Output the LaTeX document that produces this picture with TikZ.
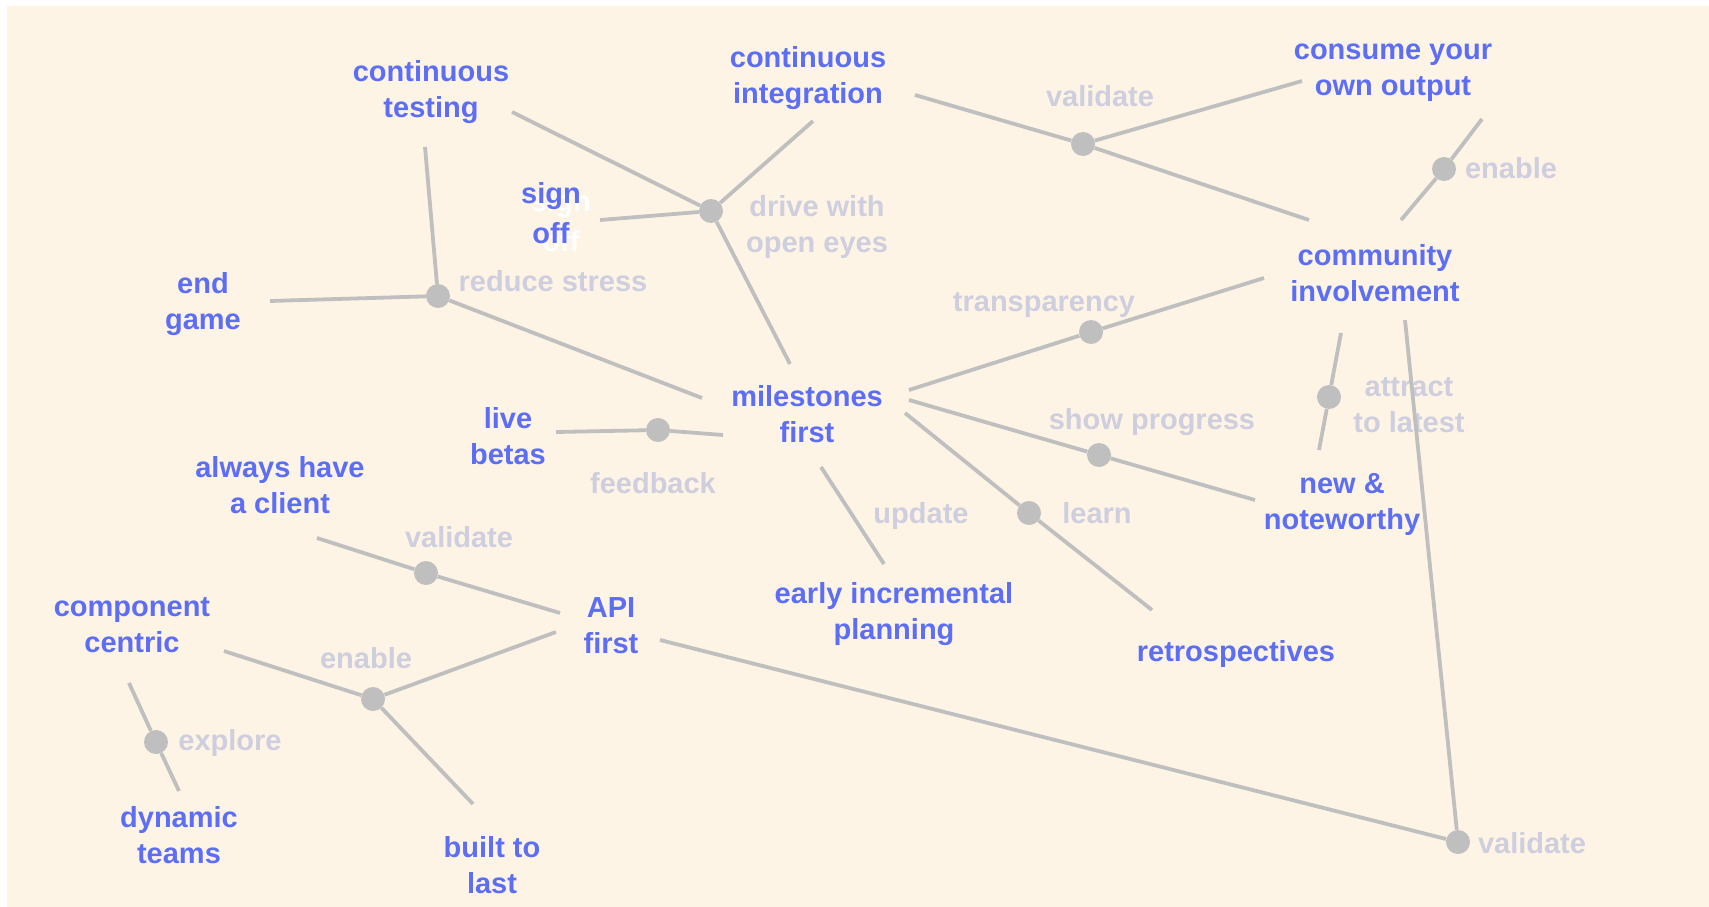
\documentclass[tikz,border=0pt]{standalone}
\usepackage{fontspec}
\setmainfont{Liberation Sans}
\definecolor{PaperCream}{RGB}{253,244,230}
\definecolor{IdeaBlue}{RGB}{92,110,246}
\definecolor{VerbGray}{RGB}{206,206,222}
\definecolor{LinkGray}{RGB}{191,191,191}
\begin{document}
\begin{tikzpicture}[x=1pt,y=-1pt,
  idea/.style={font=\fontsize{29}{36}\selectfont\bfseries,text=IdeaBlue,align=center,inner sep=0pt},
  verb/.style={font=\fontsize{29}{36}\selectfont\bfseries,text=VerbGray,align=center,inner sep=0pt},
  hub/.style={circle,fill=LinkGray,minimum size=24pt,inner sep=0pt},
  link/.style={draw=LinkGray,line width=3.8pt}]
\fill[white] (0,0) rectangle (1709,907);
\fill[PaperCream] (7,6) rectangle (1709,907);
\useasboundingbox (0,0) rectangle (1709,907);
% verbs on the links
\node[verb] (rsl) at (553,281) {reduce stress};
\node[verb] (drl) at (817,227) {drive with\\open eyes};
\node[verb] (vtl) at (1100,96) {validate};
\node[verb] (enl) at (1511,168) {enable};
\node[verb] (trl) at (1044,305) {transparency};
\node[verb] (spl) at (1152,422) {show progress};
\node[verb] (atl) at (1409,405) {attract\\to latest};
\node[verb] (lnl) at (1097,513) {learn};
\node[verb] (upl) at (921,516) {update};
\node[verb] (fbl) at (653,483) {feedback};
\node[verb] (vll) at (459,537) {validate};
\node[verb] (ell) at (366,658) {enable};
\node[verb] (exl) at (230,743) {explore};
\node[verb] (vbl) at (1532,843) {validate};
% hubs
\node[hub] (rs) at (438,296) {};
\node[hub] (dr) at (711,211) {};
\node[hub] (vt) at (1083,144) {};
\node[hub] (en) at (1444,169) {};
\node[hub] (tr) at (1091,332) {};
\node[hub] (sp) at (1099,455) {};
\node[hub] (at) at (1329,397) {};
\node[hub] (ln) at (1029,513) {};
\node[hub] (fb) at (658,430) {};
\node[hub] (vl) at (426,573) {};
\node[hub] (el) at (373,699) {};
\node[hub] (ex) at (156,742) {};
\node[hub] (vb) at (1458,842) {};
% practices
\node[idea] (ct) at (431,92) {continuous\\testing};
\node[idea] (ci) at (808,78) {continuous\\integration};
\node[idea] (co) at (1393,73) {consume your\\own output};
\node[idea,font=\fontsize{29}{40}\selectfont\bfseries,text=white] (soghost) at (561,221) {sign\\off};
\node[idea,font=\fontsize{29}{40}\selectfont\bfseries] (so) at (551,213) {sign\\off};
\node[idea] (eg) at (203,304) {end\\game};
\node[idea] (ms) at (807,414) {milestones\\first};
\node[idea] (cm) at (1375,273) {community\\involvement};
\node[idea] (lb) at (508,436) {live\\betas};
\node[idea] (nn) at (1342,504) {new \&\\noteworthy};
\node[idea] (ah) at (280,485) {always have\\a client};
\node[idea] (eip) at (894,614) {early incremental\\planning};
\node[idea] (rt) at (1236,654) {retrospectives};
\node[idea] (api) at (611,626) {API\\first};
\node[idea] (cc) at (132,625) {component\\centric};
\node[idea] (dt) at (179,835) {dynamic\\teams};
\node[idea] (bl) at (492,865) {built to\\last};
% links
\draw[link] ([shift={(-6,55)}]ct.center) -- (rs) -- ([shift={(-105,-16)}]ms.center);
\draw[link] ([shift={(67,-3)}]eg.center) -- (rs);
\draw[link] ([shift={(81,20)}]ct.center) -- (dr) -- ([shift={(-17,-50)}]ms.center);
\draw[link] ([shift={(49,7)}]so.center) -- (dr);
\draw[link] ([shift={(5,43)}]ci.center) -- (dr);
\draw[link] ([shift={(107,17)}]ci.center) -- (vt) -- ([shift={(-91,8)}]co.center);
\draw[link] (vt) -- ([shift={(-66,-53)}]cm.center);
\draw[link] ([shift={(89,46)}]co.center) -- (en) -- ([shift={(26,-53)}]cm.center);
\draw[link] ([shift={(102,-24)}]ms.center) -- (tr) -- ([shift={(-111,5)}]cm.center);
\draw[link] ([shift={(102,-14)}]ms.center) -- (sp) -- ([shift={(-87,-4)}]nn.center);
\draw[link] ([shift={(98,-1)}]ms.center) -- (ln) -- ([shift={(-84,-44)}]rt.center);
\draw[link] ([shift={(14,53)}]ms.center) -- ([shift={(-10,-50)}]eip.center);
\draw[link] ([shift={(48,-4)}]lb.center) -- (fb) -- ([shift={(-84,21)}]ms.center);
\draw[link] ([shift={(-34,60)}]cm.center) -- (at) -- ([shift={(-23,-54)}]nn.center);
\draw[link] ([shift={(30,47)}]cm.center) -- (vb);
\draw[link] ([shift={(49,14)}]api.center) -- (vb);
\draw[link] ([shift={(37,53)}]ah.center) -- (vl) -- ([shift={(-51,-13)}]api.center);
\draw[link] ([shift={(92,26)}]cc.center) -- (el) -- ([shift={(-55,6)}]api.center);
\draw[link] (el) -- ([shift={(-19,-61)}]bl.center);
\draw[link] ([shift={(-3,58)}]cc.center) -- (ex) -- ([shift={(0,-44)}]dt.center);
\end{tikzpicture}
\end{document}
